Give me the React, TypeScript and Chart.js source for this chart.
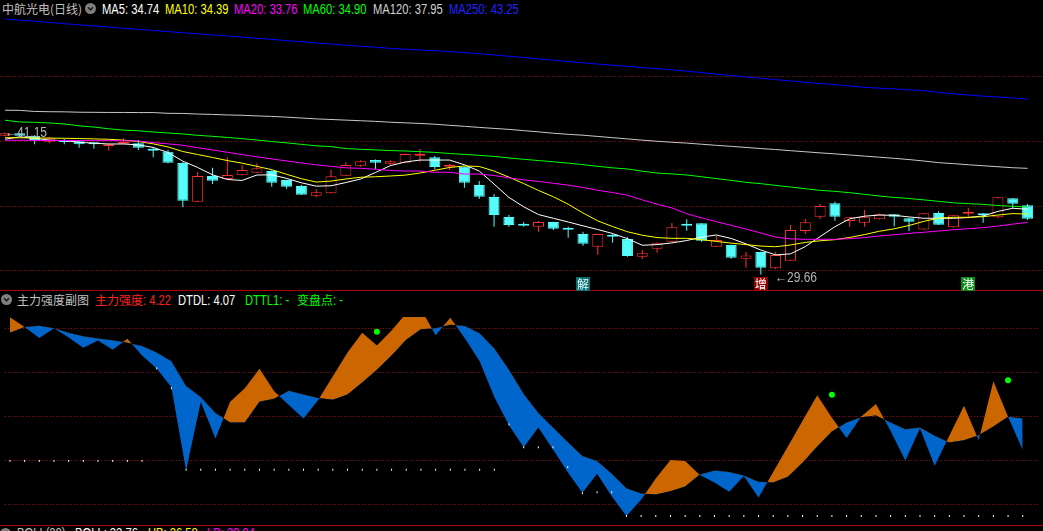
import React, { useEffect, useRef, useState } from "react";
import { Chart, registerables } from "chart.js";

Chart.register(...registerables);

// ---------- data ----------
const barIndex = Array.from({ length: 70 }, (_, i) => i);

const candleOpen = [40.89, 41.08, 40.87, 40.40, 40.46, 40.44, 40.36, 40.03, 40.24, 40.27,
  39.84, 39.60, 38.68, 35.55, 37.63, 37.39, 37.69, 37.90, 38.03, 37.31,
  36.82, 36.04, 36.23, 37.65, 38.46, 38.92, 38.62, 38.71, 39.27, 39.14,
  38.38, 38.38, 36.90, 35.93, 34.31, 33.75, 33.53, 33.91, 33.37, 32.94,
  31.91, 32.86, 32.53, 31.10, 31.75, 32.31, 33.67, 33.80, 31.91, 32.05,
  30.94, 31.48, 30.16, 30.78, 33.18, 34.34, 35.42, 33.99, 33.85, 34.13,
  34.53, 34.21, 33.30, 34.64, 33.48, 34.57, 34.62, 34.29, 35.83, 35.27];
const candleHigh = [41.15, 41.11, 40.95, 40.78, 40.62, 40.46, 40.38, 40.27, 40.68, 40.54,
  39.95, 39.73, 38.76, 37.95, 38.30, 39.14, 38.50, 38.66, 38.09, 37.33,
  36.90, 36.55, 38.11, 38.74, 38.90, 38.96, 38.90, 39.43, 39.81, 39.25,
  38.60, 38.40, 37.23, 36.17, 34.47, 33.91, 33.99, 33.93, 33.53, 33.12,
  32.96, 32.94, 32.67, 31.64, 32.25, 33.83, 34.13, 33.82, 32.78, 32.07,
  31.48, 31.50, 31.50, 33.67, 34.15, 35.36, 35.55, 34.31, 34.88, 34.60,
  34.55, 34.23, 34.63, 34.77, 34.48, 35.04, 34.64, 35.93, 35.85, 35.36];
const candleLow = [40.87, 40.83, 40.19, 40.27, 40.19, 39.92, 39.84, 39.68, 40.19, 39.73,
  39.14, 38.66, 35.10, 35.52, 36.98, 37.37, 37.67, 37.88, 36.76, 36.60,
  36.10, 35.91, 36.21, 37.63, 38.38, 38.17, 38.50, 38.69, 38.79, 38.17,
  38.11, 36.68, 35.77, 33.53, 33.53, 33.53, 33.12, 33.26, 32.64, 31.99,
  31.26, 32.23, 31.10, 30.91, 31.42, 32.29, 33.20, 32.31, 31.89, 30.94,
  30.21, 29.66, 30.11, 30.76, 32.94, 34.15, 34.01, 33.53, 33.53, 34.11,
  33.54, 33.18, 33.28, 33.67, 33.46, 34.21, 33.85, 34.21, 35.04, 34.07];
const candleClose = [41.08, 40.89, 40.54, 40.68, 40.38, 40.19, 40.19, 40.08, 40.32, 39.92,
  39.68, 38.71, 35.63, 37.63, 37.25, 37.71, 38.11, 38.25, 37.09, 36.76,
  36.12, 36.31, 37.61, 38.52, 38.82, 38.71, 38.82, 39.41, 39.41, 38.36,
  38.44, 37.09, 35.95, 34.47, 33.67, 33.61, 33.91, 33.37, 33.28, 32.15,
  32.94, 32.72, 31.16, 31.38, 32.23, 33.48, 33.61, 32.40, 32.45, 31.02,
  31.21, 30.21, 31.24, 33.26, 33.88, 35.20, 34.34, 34.29, 34.29, 34.53,
  34.34, 33.93, 34.61, 33.69, 34.46, 34.69, 34.45, 35.91, 35.39, 34.17];

const ma5 = [40.60, 40.80, 40.67, 40.54, 40.49, 40.36, 40.28, 40.22, 40.22, 40.15,
  39.94, 39.53, 38.83, 38.32, 37.73, 37.35, 37.27, 37.71, 37.72, 37.44,
  37.08, 36.81, 36.84, 37.10, 37.39, 37.91, 38.47, 38.76, 38.92, 38.92,
  38.92, 38.54, 38.03, 36.98, 35.90, 35.14, 34.51, 34.21, 33.91, 33.60,
  33.30, 32.98, 32.56, 32.03, 32.08, 32.22, 32.41, 32.69, 32.86, 32.58,
  32.14, 31.64, 31.25, 31.33, 31.92, 32.73, 33.53, 34.17, 34.38, 34.47,
  34.45, 34.32, 34.21, 34.21, 34.21, 34.27, 34.40, 34.77, 35.02, 34.94];
const ma10 = [40.73, 40.72, 40.70, 40.70, 40.68, 40.66, 40.63, 40.60, 40.53, 40.42,
  40.23, 39.98, 39.61, 39.37, 39.13, 38.88, 38.67, 38.41, 38.14, 37.77,
  37.41, 37.14, 37.22, 37.39, 37.53, 37.57, 37.63, 37.70, 37.87, 38.09,
  38.32, 38.44, 38.40, 38.03, 37.54, 37.02, 36.46, 35.95, 35.35, 34.64,
  34.00, 33.54, 33.12, 32.84, 32.65, 32.59, 32.59, 32.48, 32.34, 32.20,
  32.08, 31.96, 31.91, 32.05, 32.26, 32.39, 32.48, 32.66, 32.89, 33.16,
  33.36, 33.63, 33.96, 34.22, 34.29, 34.29, 34.34, 34.47, 34.59, 34.55];
const ma20 = [40.52, 40.52, 40.51, 40.51, 40.50, 40.50, 40.49, 40.49, 40.48, 40.46,
  40.33, 40.23, 40.11, 39.92, 39.74, 39.55, 39.36, 39.18, 39.01, 38.85,
  38.69, 38.53, 38.41, 38.29, 38.25, 38.18, 38.08, 38.03, 38.03, 37.93,
  37.93, 37.79, 37.79, 37.67, 37.48, 37.32, 37.19, 37.04, 36.89, 36.70,
  36.48, 36.29, 36.08, 35.70, 35.35, 35.05, 34.58, 34.24, 33.94, 33.64,
  33.34, 33.02, 32.69, 32.54, 32.51, 32.51, 32.51, 32.56, 32.65, 32.78,
  32.88, 32.99, 33.08, 33.18, 33.29, 33.37, 33.45, 33.58, 33.74, 33.88];
const ma60 = [42.14, 42.00, 41.97, 41.92, 41.84, 41.69, 41.59, 41.45, 41.34, 41.29,
  41.19, 41.11, 41.03, 40.92, 40.84, 40.75, 40.65, 40.54, 40.42, 40.31,
  40.19, 40.07, 40.01, 39.85, 39.79, 39.74, 39.69, 39.65, 39.60, 39.54,
  39.45, 39.38, 39.30, 39.22, 39.09, 38.98, 38.88, 38.78, 38.67, 38.55,
  38.41, 38.29, 38.20, 38.02, 37.87, 37.80, 37.71, 37.57, 37.42, 37.28,
  37.12, 37.01, 36.87, 36.74, 36.60, 36.47, 36.39, 36.28, 36.15, 36.01,
  35.90, 35.81, 35.70, 35.58, 35.46, 35.39, 35.34, 35.24, 35.18, 35.12];
const ma120 = [42.95, 42.94, 42.85, 42.83, 42.82, 42.79, 42.78, 42.77, 42.77, 42.76,
  42.76, 42.70, 42.69, 42.64, 42.61, 42.57, 42.54, 42.49, 42.45, 42.39,
  42.32, 42.25, 42.20, 42.15, 42.10, 42.05, 41.98, 41.93, 41.88, 41.82,
  41.73, 41.65, 41.56, 41.48, 41.40, 41.30, 41.20, 41.09, 41.00, 40.93,
  40.83, 40.73, 40.63, 40.53, 40.44, 40.36, 40.29, 40.20, 40.11, 40.03,
  39.94, 39.85, 39.77, 39.68, 39.59, 39.50, 39.42, 39.33, 39.24, 39.15,
  39.06, 38.96, 38.84, 38.71, 38.63, 38.54, 38.46, 38.38, 38.30, 38.25];
const ma250 = [50.33, 50.23, 50.15, 50.05, 49.95, 49.85, 49.77, 49.68, 49.58, 49.49,
  49.40, 49.31, 49.22, 49.13, 49.04, 48.96, 48.86, 48.77, 48.68, 48.58,
  48.49, 48.39, 48.30, 48.21, 48.12, 48.04, 47.95, 47.88, 47.82, 47.76,
  47.69, 47.61, 47.52, 47.42, 47.31, 47.21, 47.10, 47.00, 46.89, 46.79,
  46.68, 46.59, 46.50, 46.40, 46.31, 46.21, 46.11, 45.99, 45.87, 45.75,
  45.64, 45.53, 45.42, 45.32, 45.21, 45.11, 45.02, 44.91, 44.80, 44.73,
  44.67, 44.60, 44.54, 44.39, 44.28, 44.18, 44.09, 44.02, 43.94, 43.84];

// 主力强度 (volatile) and DTDL (smooth) lines of the sub chart
const strengthLine = [42.6, 40.4, 37.9, 40.1, 38.0, 35.7, 37.3, 35.2, 37.7, 33.9,
  31.0, 26.7, 7.8, 23.4, 15.1, 23.4, 26.5, 30.9, 25.8, 22.7,
  19.6, 23.8, 29.2, 34.6, 39.1, 36.2, 39.6, 43.5, 44.5, 38.5,
  42.5, 37.8, 32.6, 24.5, 18.1, 13.1, 17.6, 12.6, 7.5, 2.8,
  7.1, 2.0, -2.5, 1.2, 6.0, 10.2, 10.0, 6.8, 5.1, 3.0,
  6.6, 1.7, 7.5, 13.3, 19.1, 24.9, 19.8, 15.2, 20.1, 22.9,
  16.8, 10.1, 17.4, 8.9, 15.7, 22.5, 14.7, 28.1, 20.0, 12.5];
const dtdlLine = [39.1, 40.4, 40.7, 40.1, 39.1, 38.3, 37.8, 37.4, 36.8, 36.1,
  34.6, 32.6, 27.0, 24.5, 20.9, 18.7, 18.7, 23.4, 24.1, 25.9,
  25.1, 24.3, 23.9, 25.1, 27.8, 30.7, 33.9, 37.5, 39.9, 40.1,
  40.9, 40.6, 39.0, 35.5, 30.7, 25.2, 20.9, 17.6, 14.3, 11.1,
  10.0, 7.1, 3.8, 2.6, 2.4, 3.1, 4.2, 6.9, 7.8, 7.5,
  6.7, 5.3, 5.1, 6.4, 9.6, 13.3, 16.7, 18.7, 19.9, 20.3,
  18.7, 17.2, 17.6, 15.7, 14.2, 14.7, 15.8, 17.8, 20.0, 19.6];
const pivotDots = [10.0, 10.0, 10.0, 10.0, 10.0, 10.0, 10.0, 10.0, 10.0, 10.0,
  31.0, 26.5, 8.0, 8.0, 8.0, 8.0, 8.0, 8.0, 8.0, 8.0,
  8.0, 8.0, 8.0, 8.0, 8.0, 8.0, 8.0, 8.0, 8.0, 8.0,
  8.0, 8.0, 8.0, 8.0, 18.3, 13.1, 13.1, 13.1, 8.6, 2.7,
  2.9, 2.9, -2.5, -2.5, -2.5, -2.5, -2.5, -2.5, -2.5, -2.5,
  -2.5, -2.5, -2.5, -2.5, -2.5, -2.5, -2.5, -2.5, -2.5, -2.5,
  -2.5, -2.5, -2.5, -2.5, -2.5, -2.5, -2.5, -2.5, -2.5, -2.5];
const signalBars = [25, 28, 56, 68];
const signalValues = [39.3, 43.4, 25.0, 28.3];

const tagBars = [39, 51, 65];
const tagTexts = ["解", "增", "港"];

const priceGridTicks = [29.98, 35.2, 40.42, 45.64];
const subGridTicks = [0, 10, 20, 30, 40];

// ---------- style ----------
const X_MIN = -0.337;
const X_MAX = 70.04;
const PRICE_MIN = 28.41;
const PRICE_MAX = 50.49;
const SUB_MIN = -3.18;
const SUB_MAX = 42.66;
const UP = "#ff3232";
const DOWN = "#54fcfc";
const GRID = "#a00000";
const ORANGE = "rgb(204,102,0)";
const BLUE = "rgb(0,102,204)";
const LATIN = '"Liberation Sans", Arial, sans-serif';
const CJK = '"Noto Sans CJK SC", "Noto Sans CJK JP", sans-serif';

const pts = (arr: number[]) => arr.map((v, i) => ({ x: i, y: v }));

const gridAxis = (min: number, max: number, ticks: number[]) => ({
  type: "linear",
  min,
  max,
  position: "left",
  afterBuildTicks: (s: any) => {
    s.ticks = ticks.map((v) => ({ value: v }));
  },
  afterFit: (s: any) => {
    s.width = 0;
  },
  ticks: { display: false },
  border: { display: false, dash: [1, 2] },
  grid: { color: GRID, lineWidth: 1, drawTicks: false, tickLength: 0 },
});

const xAxis = { type: "linear", min: X_MIN, max: X_MAX, display: false, offset: false, grid: { offset: false } };

const baseOptions = {
  responsive: false,
  maintainAspectRatio: false,
  animation: false,
  events: [],
  layout: { padding: 0 },
  plugins: { legend: { display: false }, tooltip: { enabled: false }, title: { display: false } },
};

const Icon = ({ left, top }: { left: number; top: number }) => (
  <svg style={{ position: "absolute", left, top }} width={11} height={11}>
    <circle cx={5.5} cy={5.5} r={5.5} fill="#808080" />
    <polyline points="3,4.3 5.5,6.8 8,4.3" fill="none" stroke="#1e1e1e" strokeWidth={1.6} />
  </svg>
);

// latin text, horizontally condensed like the terminal font
const T = ({ left, top, color, size, children }: any) => (
  <span
    style={{
      position: "absolute",
      left,
      top,
      color,
      whiteSpace: "nowrap",
      lineHeight: "16px",
      fontSize: size || 14,
      fontFamily: LATIN,
      transform: "scaleX(0.8)",
      transformOrigin: "0 0",
    }}
  >
    {children}
  </span>
);

// chinese text
const C = ({ left, top, color, children }: any) => (
  <span
    style={{
      position: "absolute",
      left,
      top,
      color,
      whiteSpace: "nowrap",
      lineHeight: "16px",
      fontSize: 12,
      fontFamily: CJK,
    }}
  >
    {children}
  </span>
);

export default function App() {
  const priceRef = useRef<HTMLCanvasElement>(null);
  const subRef = useRef<HTMLCanvasElement>(null);
  const [marks, setMarks] = useState<any>(null);

  useEffect(() => {
    document.body.style.margin = "0";
    document.body.style.background = "#000";
    const up = barIndex.map((i) => candleClose[i] >= candleOpen[i]);
    const maLine = (label: string, data: number[], color: string) => ({
      type: "line",
      label,
      data: pts(data),
      borderColor: color,
      borderWidth: 1,
      pointRadius: 0,
      tension: 0,
      fill: false,
      order: 0,
    });
    const price = new Chart(priceRef.current as HTMLCanvasElement, {
      type: "bar",
      data: {
        datasets: [
          maLine("MA250", ma250, "#0000ff"),
          maLine("MA120", ma120, "#c8c8c8"),
          maLine("MA60", ma60, "#00ff00"),
          maLine("MA20", ma20, "#ff00ff"),
          maLine("MA10", ma10, "#ffff00"),
          maLine("MA5", ma5, "#ffffff"),
          {
            type: "bar",
            label: "body",
            data: barIndex.map((i) => ({ x: i, y: [candleOpen[i], candleClose[i]] })),
            backgroundColor: up.map((u) => (u ? "#000000" : DOWN)),
            borderColor: up.map((u) => (u ? UP : DOWN)),
            borderWidth: 1,
            borderSkipped: false,
            barThickness: 11,
            minBarLength: 2,
            grouped: false,
            inflateAmount: 0,
            order: 2,
          },
          {
            type: "bar",
            label: "wick",
            data: barIndex.map((i) => ({ x: i, y: [candleLow[i], candleHigh[i]] })),
            backgroundColor: up.map((u) => (u ? UP : DOWN)),
            borderWidth: 0,
            barThickness: 1,
            grouped: false,
            inflateAmount: 0,
            order: 3,
          },
        ],
      } as any,
      options: {
        ...baseOptions,
        scales: {
          x: xAxis,
          y: gridAxis(PRICE_MIN, PRICE_MAX, priceGridTicks),
        },
      } as any,
    });

    const sub = new Chart(subRef.current as HTMLCanvasElement, {
      type: "line",
      data: {
        datasets: [
          { label: "DTDL", data: pts(dtdlLine), borderWidth: 0, pointRadius: 0, fill: false, order: 5 },
          {
            label: "主力强度",
            data: pts(strengthLine),
            borderWidth: 0,
            pointRadius: 0,
            fill: { target: 0, above: ORANGE, below: BLUE },
            order: 4,
          },
          {
            label: "pivot",
            data: pts(pivotDots),
            showLine: false,
            pointStyle: "line",
            rotation: 90,
            pointRadius: 1,
            pointBorderColor: "#ffffff",
            pointBorderWidth: 1,
            order: 1,
          },
          {
            label: "变盘点",
            data: signalBars.map((b, k) => ({ x: b, y: signalValues[k] })),
            showLine: false,
            pointRadius: 3,
            pointBackgroundColor: "#00ff00",
            pointBorderWidth: 0,
            order: 0,
          },
        ],
      } as any,
      options: {
        ...baseOptions,
        scales: {
          x: xAxis,
          y: gridAxis(SUB_MIN, SUB_MAX, subGridTicks),
        },
      } as any,
    });

    const xs = price.scales.x;
    const ys = price.scales.y;
    let hi = 0;
    let lo = 0;
    barIndex.forEach((i) => {
      if (candleHigh[i] > candleHigh[hi]) hi = i;
      if (candleLow[i] < candleLow[lo]) lo = i;
    });
    setMarks({
      hiX: xs.getPixelForValue(hi),
      hiY: ys.getPixelForValue(candleHigh[hi]),
      hiText: candleHigh[hi].toFixed(2),
      loX: xs.getPixelForValue(lo),
      loY: ys.getPixelForValue(candleLow[lo]),
      loText: candleLow[lo].toFixed(2),
      tags: tagBars.map((b) => xs.getPixelForValue(b)),
    });

    return () => {
      price.destroy();
      sub.destroy();
    };
  }, []);

  const tagColors = [
    { bg: "#0b6f70", fg: "#dffcff" },
    { bg: "#8e0000", fg: "#ffffff" },
    { bg: "#0c8a18", fg: "#ffffff" },
  ];

  return (
    <div
      style={{
        position: "absolute",
        left: 0,
        top: 0,
        width: 1043,
        height: 531,
        background: "#000",
        overflow: "hidden",
        fontFamily: LATIN,
      }}
    >
      {/* main header */}
      <C left={2} top={1} color="#c0c0c0">中航光电(日线)</C>
      <Icon left={85} top={3} />
      <T left={102} top={1} color="#ffffff">MA5: 34.74</T>
      <T left={165} top={1} color="#ffff00">MA10: 34.39</T>
      <T left={234} top={1} color="#ff00ff">MA20: 33.76</T>
      <T left={303} top={1} color="#00ff00">MA60: 34.90</T>
      <T left={373} top={1} color="#d0d0d0">MA120: 37.95</T>
      <T left={449} top={1} color="#2323ff">MA250: 43.25</T>

      <div style={{ position: "absolute", left: 0, top: 17 }}>
        <canvas ref={priceRef} width={1043} height={273} style={{ display: "block" }} />
      </div>
      <div style={{ position: "absolute", left: 0, top: 290, width: 1043, height: 1, background: "#b00000" }} />

      {/* sub header */}
      <Icon left={1} top={294} />
      <C left={17} top={292} color="#c0c0c0">主力强度副图</C>
      <C left={95} top={292} color="#ff2020">主力强度</C>
      <T left={143} top={292} color="#ff2020">: 4.22</T>
      <T left={178} top={292} color="#ffffff">DTDL: 4.07</T>
      <T left={245} top={292} color="#00ff00">DTTL1: -</T>
      <C left={297} top={292} color="#00ff00">变盘点</C>
      <T left={333} top={292} color="#00ff00">: -</T>

      <div style={{ position: "absolute", left: 0, top: 312 }}>
        <canvas ref={subRef} width={1043} height={212} style={{ display: "block" }} />
      </div>
      <div style={{ position: "absolute", left: 0, top: 525, width: 1043, height: 1, background: "#b00000" }} />

      {/* bottom (cut) header */}
      <Icon left={0} top={528} />
      <T left={17} top={525} color="#c0c0c0">BOLL(20)</T>
      <T left={75} top={525} color="#ffffff">BOLL: 33.76</T>
      <T left={148} top={525} color="#ffff00">UB: 36.58</T>
      <T left={207} top={525} color="#ff00ff">LB: 30.94</T>

      {marks && (
        <>
          <T left={marks.hiX} top={17 + marks.hiY - 8.5} color="#b4b4b4" size={15}>
            {"←" + marks.hiText}
          </T>
          <T left={marks.loX + 14} top={17 + marks.loY - 5.5} color="#b4b4b4" size={15}>
            {"←" + marks.loText}
          </T>
          {marks.tags.map((x: number, k: number) => (
            <div
              key={k}
              style={{
                position: "absolute",
                left: x - 7,
                top: 277,
                width: 14,
                height: 14,
                background: tagColors[k].bg,
                color: tagColors[k].fg,
                fontFamily: CJK,
                fontSize: 12,
                lineHeight: "14px",
                textAlign: "center",
              }}
            >
              {tagTexts[k]}
            </div>
          ))}
        </>
      )}
    </div>
  );
}
